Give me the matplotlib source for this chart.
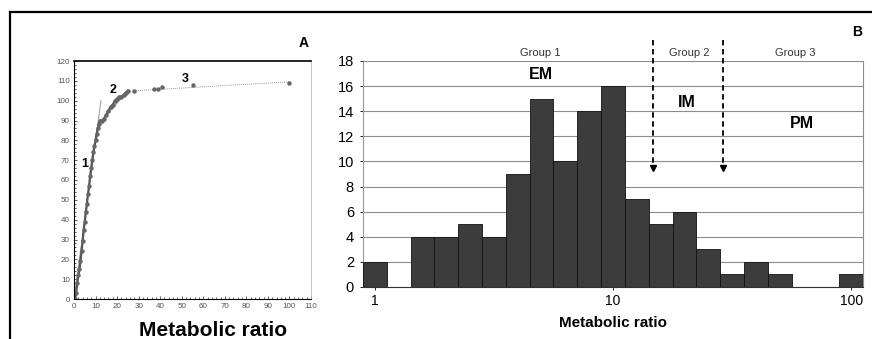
import matplotlib.pyplot as plt
import numpy as np
from matplotlib.lines import Line2D
from matplotlib.ticker import MultipleLocator, FixedLocator, NullLocator

plt.rcParams["font.family"] = ["Liberation Sans", "DejaVu Sans"]

# panel A: cumulative number of subjects vs metabolic ratio
mr_a = [0.5, 1, 1.5, 2, 2.5, 3, 3.5, 4, 4.5, 5, 5.5, 6, 6.5, 7, 7.5, 8, 8.5, 9,
        9.5, 10, 10.5, 11, 11.5, 12, 13, 14, 15, 16, 17, 18, 19, 20, 21, 22, 23,
        24, 25]
rank_a = [0, 3, 8, 12, 15, 19, 24, 29, 35, 39, 44, 48, 53, 57, 62, 66, 70, 74,
          77, 80, 83, 86, 88, 90, 90, 91, 93, 95, 97, 98, 100, 101, 102, 102, 103,
          104, 105]
# isolated high-ratio subjects
mr_tail = [28, 37, 39, 41, 55, 100]
rank_tail = [105, 106, 106, 107, 108, 109]
fit1 = ([0.0, 12.5], [0, 100])
fit2 = ([13, 25], [90, 105])
fit3 = ([28, 100], [105, 109.5])
phase_labels = ["1", "2", "3"]
phase_pos = [(5.1, 68), (18, 105.5), (51.5, 111)]

# panel B: histogram on log bins, 0.1 decade wide, centred on 10^(k/10)
counts_b = [2, 0, 4, 4, 5, 4, 9, 15, 10, 14, 16, 7, 5, 6, 3, 1, 2, 1, 0, 0, 1]
group_cuts = [14.7, 29.1]
group_names = ["Group 1", "Group 2", "Group 3"]
group_x = [4.97, 20.9, 58]
phenotypes = ["EM", "IM", "PM"]
phenotype_pos = [(5.0, 16.95), (20.5, 14.7), (62, 13.05)]

fig = plt.figure(figsize=(8.72, 3.39), dpi=100)
W, H = 872, 339


def box(l, t, r, b):
    return [l / W, 1 - b / H, (r - l) / W, (b - t) / H]


# ---- panel A
axa = fig.add_axes(box(74, 61, 311, 299))
axa.plot(*fit1, color="#9a9a9a", lw=0.7)
axa.plot(*fit2, color="#9a9a9a", lw=0.7)
axa.plot(*fit3, color="#9a9a9a", lw=0.7, ls=(0, (1, 1)))
axa.plot(mr_a, rank_a, color="#555555", lw=1.6, marker="o", ms=2.2,
         mfc="#666666", mec="#666666")
axa.plot(mr_tail, rank_tail, ls="none", marker="o", ms=2.2,
         mfc="#666666", mec="#666666")
for lab, (x, y) in zip(phase_labels, phase_pos):
    axa.text(x, y, lab, fontsize=9, fontweight="bold", ha="center", va="center")
axa.set_xlim(0, 110)
axa.set_ylim(0, 120)
axa.xaxis.set_major_locator(MultipleLocator(10))
axa.yaxis.set_major_locator(MultipleLocator(10))
axa.xaxis.set_minor_locator(MultipleLocator(2))
axa.yaxis.set_minor_locator(MultipleLocator(2))
axa.tick_params(which="both", direction="in", length=1.5, width=0.6,
                labelsize=5.8, labelcolor="#555555", color="#444444", pad=3)
axa.tick_params(which="major", length=2.5)
axa.spines["top"].set_linewidth(1.2)
axa.spines["right"].set_color("#bbbbbb")
axa.spines["right"].set_linewidth(0.6)
axa.spines["left"].set_linewidth(0.8)
axa.spines["bottom"].set_linewidth(0.8)
fig.text(213 / W, 1 - 330 / H, "Metabolic ratio", fontsize=15, fontweight="bold",
         ha="center", va="center")
fig.text(304 / W, 1 - 43 / H, "A", fontsize=10, fontweight="bold", ha="center", va="center")

# ---- panel B
axb = fig.add_axes(box(363, 61, 863, 287))
edges = 10 ** (np.arange(len(counts_b) + 1) / 10 - 0.05)
axb.set_xscale("log")
axb.bar(edges[:-1], counts_b, width=np.diff(edges), align="edge",
        color="#3c3c3c", edgecolor="#111111", linewidth=0.6, zorder=3)
axb.set_xlim(edges[0], edges[-1])
axb.set_ylim(0, 18)
axb.yaxis.set_major_locator(MultipleLocator(2))
axb.xaxis.set_major_locator(FixedLocator([1, 10, 100]))
axb.xaxis.set_minor_locator(NullLocator())
axb.set_xticklabels(["1", "10", "100"])
axb.grid(axis="y", color="#8c8c8c", lw=0.8, zorder=0)
axb.tick_params(axis="y", length=2.5, width=0.6, labelsize=10.5, pad=4)
axb.tick_params(axis="x", length=2, width=0.6, labelsize=10, pad=3)
axb.spines["top"].set_visible(False)
axb.spines["right"].set_color("#8c8c8c")
axb.spines["left"].set_color("#9a9a9a")
axb.spines["left"].set_linestyle((0, (1, 1)))
axb.spines["bottom"].set_color("#333333")
axb.spines["bottom"].set_zorder(4)

for x in group_cuts:
    axb.plot([x, x], [19.7, 9.6], color="black", lw=1.3, ls=(0, (3, 2)),
             clip_on=False, zorder=5)
    axb.plot([x], [9.45], marker="v", color="black", ms=5, clip_on=False, zorder=5)
for name, x in zip(group_names, group_x):
    axb.text(x, 18.62, name, fontsize=8, color="#333333", ha="center", va="center")
for name, (x, y) in zip(phenotypes, phenotype_pos):
    axb.text(x, y, name, fontsize=11.5, fontweight="bold", ha="center", va="center")
fig.text(613 / W, 1 - 323 / H, "Metabolic ratio", fontsize=11, fontweight="bold",
         ha="center", va="center")
fig.text(857 / W, 1 - 32 / H, "B", fontsize=10, fontweight="bold", ha="center", va="center")

# outer frame lines
fig.add_artist(Line2D([10 / W, 1], [1 - 12 / H] * 2, color="black", lw=1.6))
fig.add_artist(Line2D([10 / W] * 2, [0, 1 - 12 / H], color="black", lw=1.6))

fig.savefig("out.png", dpi=100)
